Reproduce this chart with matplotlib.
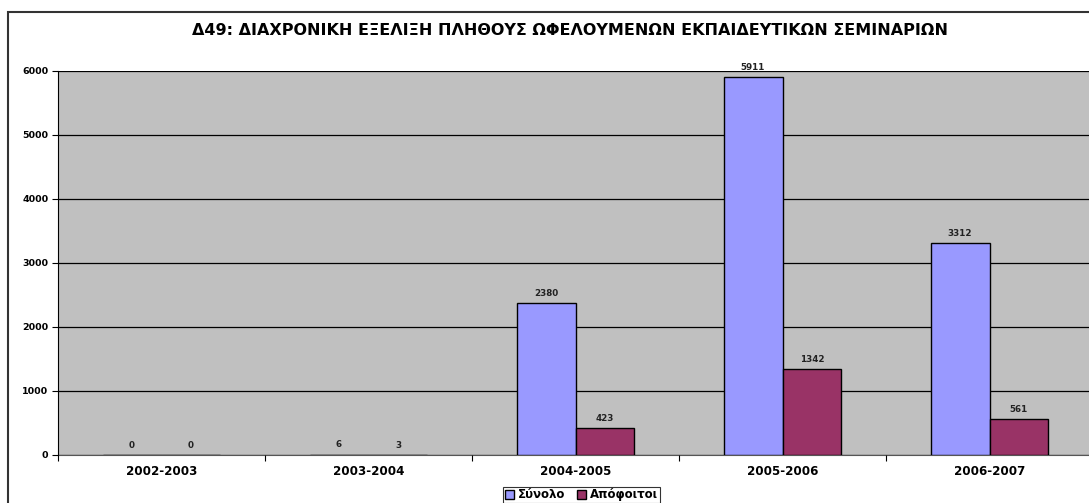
import numpy as np
import matplotlib
matplotlib.use('Agg')
import matplotlib.pyplot as plt
from matplotlib.patches import Rectangle

plt.rcParams['font.family'] = ['DejaVu Sans']
plt.rcParams['font.weight'] = 'bold'

# data
years = ['2002-2003', '2003-2004', '2004-2005', '2005-2006', '2006-2007']
total = [0, 6, 2380, 5911, 3312]
graduates = [0, 3, 423, 1342, 561]
title = 'Δ49: ΔΙΑΧΡΟΝΙΚΗ ΕΞΕΛΙΞΗ ΠΛΗΘΟΥΣ ΩΦΕΛΟΥΜΕΝΩΝ ΕΚΠΑΙΔΕΥΤΙΚΩΝ ΣΕΜΙΝΑΡΙΩΝ'

fig = plt.figure(figsize=(10.89, 5.03), dpi=100)
# outer chart border
fig.patches.append(Rectangle((8 / 1089, -0.1), 1.2, (503 - 12) / 503 + 0.1,
                             transform=fig.transFigure, fill=False,
                             edgecolor='#333333', linewidth=1.5))

ax = fig.add_axes([58 / 1089, 48 / 503, 1035 / 1089, 384 / 503])
ax.set_facecolor('#C0C0C0')

x = np.arange(len(years))
w = 0.285
b1 = ax.bar(x - w / 2, total, w, color='#9999FF', edgecolor='black', linewidth=1, label='Σύνολο')
b2 = ax.bar(x + w / 2, graduates, w, color='#993366', edgecolor='black', linewidth=1, label='Απόφοιτοι')

for bars, vals in ((b1, total), (b2, graduates)):
    for r, v in zip(bars, vals):
        ax.text(r.get_x() + r.get_width() / 2, v + 80, str(v), ha='center', va='bottom',
                fontsize=6.3, fontweight='bold', color='#222222')

ax.set_xlim(-0.5, len(years) - 0.5)
ax.set_ylim(0, 6000)
ax.set_yticks(range(0, 6001, 1000))
ax.yaxis.grid(True, color='black', linewidth=0.9)
ax.set_axisbelow(True)
ax.tick_params(axis='y', labelsize=6.8, length=4, width=0.8, pad=3)

ax.set_xticks(x)
ax.set_xticklabels(years, fontsize=8.6, fontweight='bold')
ax.set_xticks(np.arange(-0.5, len(years), 1), minor=True)
ax.tick_params(axis='x', which='major', length=0, pad=7)
ax.tick_params(axis='x', which='minor', length=4, width=0.8)

for s in ['top', 'right']:
    ax.spines[s].set_visible(False)
ax.spines['left'].set_color('black')
ax.spines['bottom'].set_color('#555555')
ax.spines['bottom'].set_zorder(0.5)

fig.text(0.523, 0.94, title, ha='center', va='center', fontsize=11.5, fontweight='bold')

leg = fig.legend(handles=[b1, b2], loc='center', bbox_to_anchor=(0.534, 0.016), ncol=2,
                 fontsize=8.5, frameon=True, fancybox=False, handlelength=0.8, handleheight=0.8,
                 handletextpad=0.3, columnspacing=1.0, borderpad=0.12)
leg.get_frame().set_edgecolor('black')
leg.get_frame().set_linewidth(0.8)

fig.savefig('out.png', dpi=100)
